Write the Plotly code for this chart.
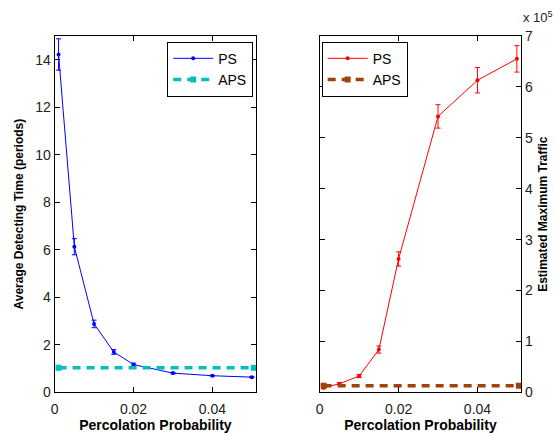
import plotly.graph_objects as go

# Percolation probabilities used in the simulations
prob = [0.001, 0.005, 0.01, 0.015, 0.02, 0.03, 0.04, 0.05]

# Average detecting time (periods) for PS, with error half-widths
ps_time = [14.22, 6.13, 2.88, 1.70, 1.17, 0.81, 0.70, 0.64]
ps_time_err = [0.66, 0.34, 0.16, 0.10, 0.06, 0.03, 0.02, 0.02]
# APS detecting time (constant over the probability range)
aps_time = 1.04
aps_x = [0.001, 0.0505]

# Estimated maximum traffic for PS, with error half-widths
ps_traffic = [0.09e5, 0.17e5, 0.32e5, 0.84e5, 2.62e5, 5.42e5, 6.13e5, 6.55e5]
ps_traffic_err = [0.02e5, 0.02e5, 0.03e5, 0.07e5, 0.14e5, 0.23e5, 0.25e5, 0.26e5]
aps_traffic = 0.13e5

left_ticks = [0, 2, 4, 6, 8, 10, 12, 14]
right_ticks = [0, 1e5, 2e5, 3e5, 4e5, 5e5, 6e5, 7e5]
right_ticklabels = ["0", "1", "2", "3", "4", "5", "6", "7"]
x_ticks = [0, 0.02, 0.04]
x_ticklabels = ["0", "0.02", "0.04"]

BLUE = "#0000ff"
CYAN = "#00bfbf"
RED = "#ff0000"
BROWN = "#a0420a"
FONT = "Liberation Sans, Arial, sans-serif"

fig = go.Figure()

fig.add_trace(go.Scatter(
    x=prob, y=ps_time, mode="lines+markers", name="PS",
    line=dict(color=BLUE, width=1), marker=dict(color=BLUE, size=4),
    error_y=dict(type="data", array=ps_time_err, color=BLUE, thickness=1, width=2.5),
    xaxis="x", yaxis="y", legend="legend"))
fig.add_trace(go.Scatter(
    x=aps_x, y=[aps_time] * len(aps_x), mode="lines+markers", name="APS",
    line=dict(color=CYAN, width=3.5, dash="8px,6px"),
    marker=dict(color=CYAN, size=6, symbol="square"),
    xaxis="x", yaxis="y", legend="legend"))

fig.add_trace(go.Scatter(
    x=prob, y=ps_traffic, mode="lines+markers", name="PS",
    line=dict(color=RED, width=1), marker=dict(color=RED, size=4),
    error_y=dict(type="data", array=ps_traffic_err, color=RED, thickness=1, width=2.5),
    xaxis="x2", yaxis="y2", legend="legend2"))
fig.add_trace(go.Scatter(
    x=aps_x, y=[aps_traffic] * len(aps_x), mode="lines+markers", name="APS",
    line=dict(color=BROWN, width=3.5, dash="8px,6px"),
    marker=dict(color=BROWN, size=6, symbol="square"),
    xaxis="x2", yaxis="y2", legend="legend2"))

axis_common = dict(
    showline=True, linecolor="black", linewidth=1, mirror="ticks",
    ticks="inside", ticklen=5, tickcolor="black", showgrid=False, zeroline=False,
    tickfont=dict(family=FONT, size=14, color="#222"),
)
x_title_font = dict(family=FONT, size=14, color="black", weight="bold")
y_title_font = dict(family=FONT, size=12, color="black", weight="bold")

W, H = 554, 436
y_dom = [1 - 399 / H, 1 - 29 / H]

fig.update_layout(
    width=W, height=H, margin=dict(l=0, r=0, t=0, b=0),
    paper_bgcolor="white", plot_bgcolor="white",
    font=dict(family=FONT),
    xaxis=dict(domain=[51 / W, 254 / W], range=[0, 0.0511], tickvals=x_ticks,
               ticktext=x_ticklabels, anchor="y", ticklabelstandoff=4,
               title=dict(text="Percolation Probability", font=x_title_font, standoff=3),
               **axis_common),
    yaxis=dict(domain=y_dom, range=[0, 15], tickvals=left_ticks, anchor="x",
               title=dict(text="Average Detecting Time (periods)", font=y_title_font, standoff=9),
               **axis_common),
    xaxis2=dict(domain=[318 / W, 521 / W], range=[0, 0.0511], tickvals=x_ticks,
                ticktext=x_ticklabels, anchor="y2", ticklabelstandoff=4,
                title=dict(text="Percolation Probability", font=x_title_font, standoff=3),
                **axis_common),
    yaxis2=dict(domain=y_dom, range=[0, 7e5], tickvals=right_ticks,
                ticktext=right_ticklabels, anchor="x2", side="right",
                title=dict(text="Estimated Maximum Traffic", font=y_title_font, standoff=6),
                **axis_common),
    legend=dict(x=251 / W, xanchor="right", y=1 - 35 / H, yanchor="top",
                bgcolor="white", bordercolor="black", borderwidth=1,
                font=dict(family=FONT, size=14, color="black"),
                tracegroupgap=0, itemwidth=40),
    legend2=dict(x=320 / W, xanchor="left", y=1 - 35 / H, yanchor="top",
                 bgcolor="white", bordercolor="black", borderwidth=1,
                 font=dict(family=FONT, size=14, color="black"),
                 tracegroupgap=0, itemwidth=40),
    annotations=[dict(text="x 10<sup>5</sup>", x=522 / W, y=1.0,
                      xref="paper", yref="paper", xanchor="left", yanchor="top",
                      borderpad=0, showarrow=False,
                      font=dict(family=FONT, size=13, color="#222"))],
)

fig.write_html("out.html")
